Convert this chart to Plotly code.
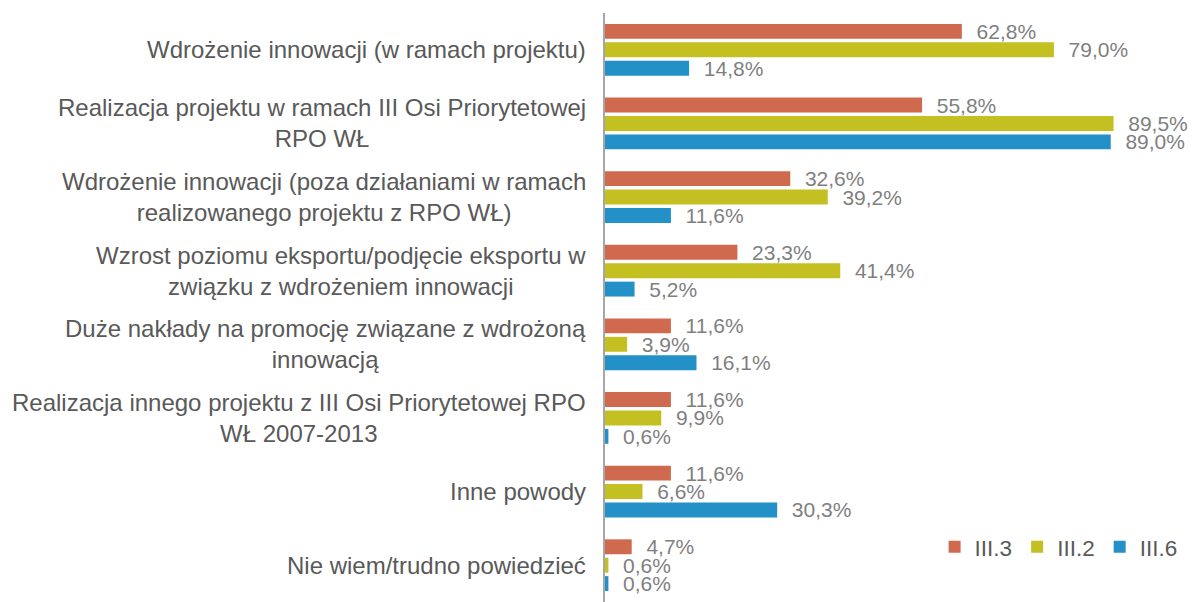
import plotly.graph_objects as go

# categories top to bottom
categories = [
    "Wdrożenie innowacji (w ramach projektu)",
    "Realizacja projektu w ramach III Osi Priorytetowej<br>RPO WŁ",
    "Wdrożenie innowacji (poza działaniami w ramach<br>realizowanego projektu z RPO WŁ)",
    "Wzrost poziomu eksportu/podjęcie eksportu w<br>związku z wdrożeniem innowacji",
    "Duże nakłady na promocję związane z wdrożoną<br>innowacją",
    "Realizacja innego projektu z III Osi Priorytetowej RPO<br>WŁ 2007-2013",
    "Inne powody",
    "Nie wiem/trudno powiedzieć",
]

series_names = ["III.3", "III.2", "III.6"]
iii_3 = [62.8, 55.8, 32.6, 23.3, 11.6, 11.6, 11.6, 4.7]
iii_2 = [79.0, 89.5, 39.2, 41.4, 3.9, 9.9, 6.6, 0.6]
iii_6 = [14.8, 89.0, 11.6, 5.2, 16.1, 0.6, 30.3, 0.6]
colors = ["#D06A4E", "#C4C022", "#2390C8"]

FONT = "Liberation Sans, Arial, sans-serif"

fig = go.Figure()
for name, vals, col in zip(series_names, [iii_3, iii_2, iii_6], colors):
    fig.add_trace(go.Bar(
        x=vals, y=categories, orientation="h", name=name,
        marker_color=col, marker_line_width=0,
        texttemplate="\u00a0\u00a0%{x:.1f}%", textposition="outside",
        textfont=dict(size=21, color="#7F7F7F", family=FONT),
        constraintext="none", cliponaxis=False,
    ))

# category labels, centred multi-line, right edge next to the axis
for c in categories:
    fig.add_annotation(
        x=0, xref="paper", xanchor="right", xshift=-17,
        y=c, yref="y", text=c, showarrow=False, align="center",
        font=dict(size=24, color="#595959", family=FONT),
    )

fig.update_layout(
    width=1192, height=602,
    margin=dict(l=605, r=0, t=13, b=0),
    barmode="group", bargap=0.25, bargroupgap=0.19,
    separators=", ",
    plot_bgcolor="white", paper_bgcolor="white",
    font=dict(family=FONT, color="#595959"),
    showlegend=True,
    legend=dict(
        orientation="h", x=0.984, xanchor="right", y=0.093, yanchor="middle",
        font=dict(size=22.5, color="#595959", family=FONT),
        traceorder="normal",
    ),
)
fig.update_xaxes(range=[0, 103.3], visible=False, showgrid=False)
fig.update_yaxes(autorange="reversed", showticklabels=False, showgrid=False,
                 showline=True, linecolor="#A6A6A6", linewidth=2, ticks="")

# drop the default body margin so the figure fills the window exactly
fig.write_html("out.html",
               config={"displayModeBar": False},
               post_script="document.body.style.margin='0';"
                           "document.body.style.overflow='hidden';")
